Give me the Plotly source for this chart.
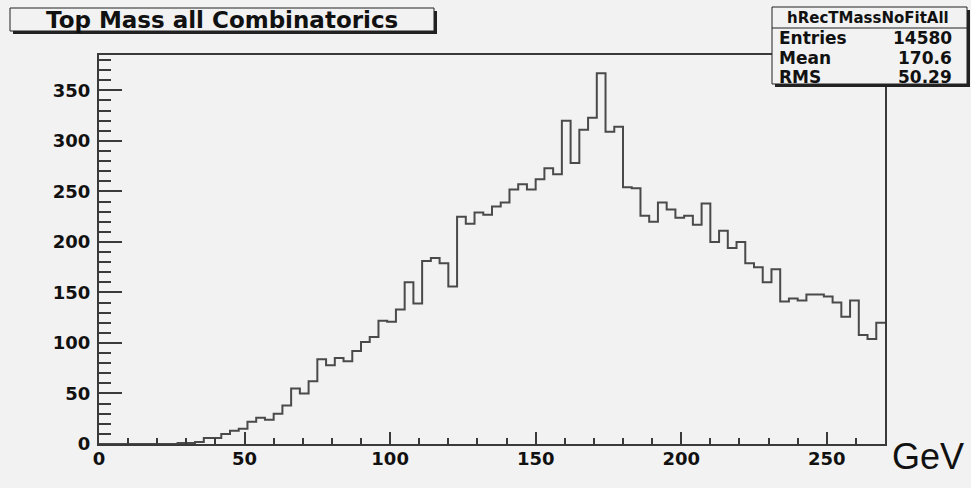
import numpy as np
import plotly.graph_objects as go

# Histogram: reconstructed top-quark mass, 90 bins of 3 GeV over [0, 270]
BIN_LO, BIN_HI, N_BINS = 0.0, 270.0, 90
counts = [
    0, 0, 0, 0, 0, 0, 0, 0, 0, 1,
    1, 2, 6, 6, 10, 13, 15, 22, 26, 24,
    30, 38, 55, 50, 62, 84, 78, 85, 82, 92,
    101, 106, 122, 121, 133, 160, 139, 181, 184, 179,
    156, 225, 218, 229, 227, 235, 239, 252, 257, 252,
    262, 273, 267, 320, 278, 311, 323, 367, 309, 314,
    254, 253, 226, 220, 239, 232, 224, 226, 217, 238,
    200, 211, 194, 200, 179, 175, 160, 173, 141, 144,
    142, 148, 148, 146, 140, 126, 142, 108, 104, 120,
]

title_text = "Top Mass all Combinatorics"
stats_name = "hRecTMassNoFitAll"
stats_labels = ["Entries", "Mean", "RMS"]
stats_values = ["14580", "170.6", "50.29"]
x_unit = "GeV"

x_ticks = [0, 50, 100, 150, 200, 250]
y_ticks = [0, 50, 100, 150, 200, 250, 300, 350]

W, H = 971, 488
ML, MR, MT, MB = 99, 86, 55, 44
PW, PH = W - ML - MR, H - MT - MB

BG = "#f2f2f2"
INK = "#3a3a3a"
BOLD = "DejaVu Sans"


def px(xp):
    return (xp - ML) / PW


def py(yp):
    return (H - MB - yp) / PH


edges = np.linspace(BIN_LO, BIN_HI, N_BINS + 1)
step_y = list(counts) + [counts[-1]]

fig = go.Figure()
fig.add_trace(go.Scatter(
    x=edges, y=step_y, mode="lines", line_shape="hv",
    line=dict(color="#4a4a4a", width=2), hoverinfo="skip", showlegend=False,
))

axis_common = dict(
    showgrid=False, zeroline=False, showline=True, mirror=True,
    linecolor=INK, linewidth=2, ticks="inside", tickcolor=INK, tickwidth=1.5,
    tickfont=dict(family=BOLD, size=18, color="#111111", weight="bold"),
)
fig.update_xaxes(
    range=[BIN_LO, BIN_HI], tickvals=x_ticks, ticklen=12,
    minor=dict(dtick=10, tick0=0, ticks="inside", ticklen=6, tickcolor=INK, tickwidth=1.5),
    ticklabelstandoff=-3,
    **axis_common,
)
fig.update_yaxes(
    range=[0, 385], tickvals=y_ticks, ticklen=23,
    minor=dict(dtick=10, tick0=0, ticks="inside", ticklen=12, tickcolor=INK, tickwidth=1.5),
    ticklabelstandoff=3,
    **axis_common,
)

shapes = []
annotations = []


def boxed(x0, y0, x1, y1, shadow=3):
    # drop shadow first, then the framed box on top
    shapes.append(dict(type="rect", xref="paper", yref="paper",
                       x0=px(x0 + shadow), x1=px(x1 + shadow), y0=py(y1 + shadow), y1=py(y0 + shadow),
                       line=dict(width=0), fillcolor="#222222", layer="above"))
    shapes.append(dict(type="rect", xref="paper", yref="paper",
                       x0=px(x0), x1=px(x1), y0=py(y1), y1=py(y0),
                       line=dict(color="#222222", width=1), fillcolor=BG, layer="above"))


# title box
boxed(10, 8, 434, 31)
annotations.append(dict(xref="paper", yref="paper", x=px(222), y=py(20),
                        text=f"<b>{title_text}</b>", showarrow=False,
                        font=dict(family=BOLD, size=23, color="#111111"),
                        xanchor="center", yanchor="middle"))

# statistics box
boxed(772, 7, 967, 84)
shapes.append(dict(type="line", xref="paper", yref="paper",
                   x0=px(772), x1=px(967), y0=py(28), y1=py(28),
                   line=dict(color="#222222", width=1), layer="above"))
annotations.append(dict(xref="paper", yref="paper", x=px(868), y=py(18),
                        text=f"<b>{stats_name}</b>", showarrow=False,
                        font=dict(family=BOLD, size=15, color="#111111"),
                        xanchor="center", yanchor="middle"))
row_y = [38, 58, 77]
for lab, val, yy in zip(stats_labels, stats_values, row_y):
    annotations.append(dict(xref="paper", yref="paper", x=px(777), y=py(yy),
                            text=f"<b>{lab}</b>", showarrow=False,
                            font=dict(family=BOLD, size=17, color="#111111"),
                            xanchor="left", yanchor="middle"))
    annotations.append(dict(xref="paper", yref="paper", x=px(954), y=py(yy),
                            text=f"<b>{val}</b>", showarrow=False,
                            font=dict(family=BOLD, size=17, color="#111111"),
                            xanchor="right", yanchor="middle"))

# axis unit
annotations.append(dict(xref="paper", yref="paper", x=px(890), y=py(456),
                        text=x_unit, showarrow=False,
                        font=dict(family="Liberation Sans", size=36, color="#111111"),
                        xanchor="left", yanchor="middle"))

fig.update_layout(
    width=W, height=H, autosize=False,
    margin=dict(l=ML, r=MR, t=MT, b=MB, pad=0),
    paper_bgcolor=BG, plot_bgcolor=BG,
    shapes=shapes, annotations=annotations,
    showlegend=False,
)

fig.write_html("out.html")
